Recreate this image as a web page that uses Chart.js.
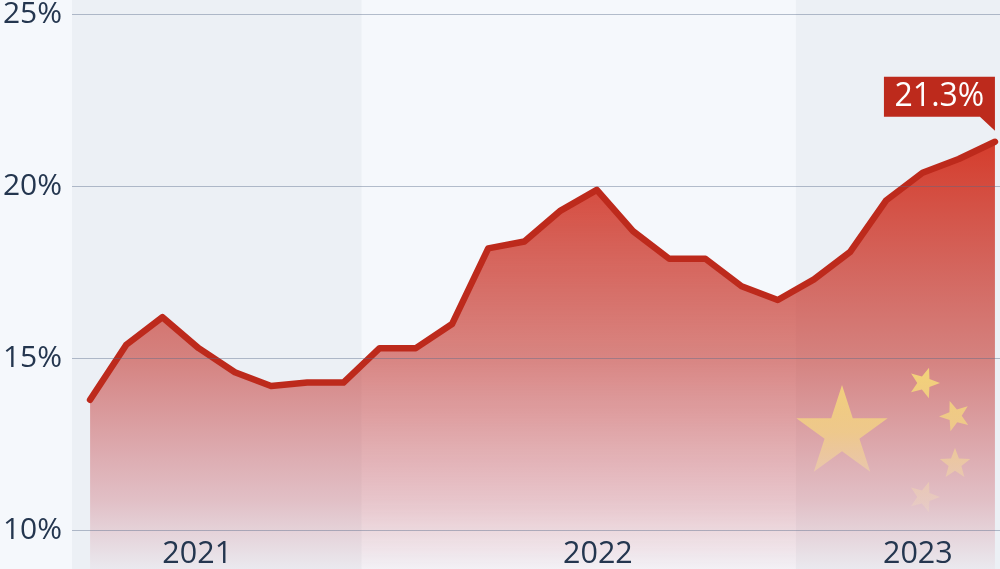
<!DOCTYPE html>
<html>
<head>
<meta charset="utf-8">
<style>
  html, body { margin: 0; padding: 0; background: #f5f8fc; }
  #wrap { width: 1000px; height: 569px; position: relative; }
</style>
<script src="https://cdn.jsdelivr.net/npm/chart.js@4"></script>
</head>
<body>
<div id="wrap"><canvas id="myChart"></canvas></div>
<script>
// monthly share
var rates = [13.8, 15.4, 16.2, 15.3, 14.6, 14.2, 14.3, 14.3, 15.3, 15.3, 16.0, 18.2, 18.4,
             19.3, 19.9, 18.7, 17.9, 17.9, 17.1, 16.7, 17.3, 18.1, 19.6, 20.4, 20.8, 21.3];
var yTicks = [10, 15, 20, 25];
var years = ['2021', '2022', '2023'];
var yearTicks = [2.96, 14.03, 22.87];
// shaded year bands, in month index units
var bandStarts = [-0.5, 19.5];
var bandEnds = [7.5, 25.14];
var lastLabel = '21.3%';

var fontName = '"Open Sans", sans-serif';
var textColor = '#24364f';
var red = '#bd2a1c';

function starPath(ctx, cx, cy, r, rot, inner) {
  ctx.beginPath();
  for (var i = 0; i < 10; i++) {
    var rad = i % 2 == 0 ? r : r * inner;
    var ang = -Math.PI / 2 + rot + i * Math.PI / 5;
    ctx.lineTo(cx + rad * Math.cos(ang), cy + rad * Math.sin(ang));
  }
  ctx.closePath();
}

var bandsPlugin = {
  id: 'bands',
  beforeDatasetsDraw: function (chart) {
    var ctx = chart.ctx, xs = chart.scales.x, area = chart.chartArea;
    ctx.save();
    ctx.fillStyle = '#ecf0f5';
    for (var i = 0; i < bandStarts.length; i++) {
      var l = xs.getPixelForValue(bandStarts[i]);
      var r = xs.getPixelForValue(bandEnds[i]);
      ctx.fillRect(l, area.top, r - l, area.bottom - area.top);
    }
    ctx.restore();
  }
};

var flagPlugin = {
  id: 'flag',
  afterDatasetsDraw: function (chart) {
    var ctx = chart.ctx;
    var g = ctx.createLinearGradient(0, 365, 0, 515);
    g.addColorStop(0, 'rgba(245,215,120,0.95)');
    g.addColorStop(0.45, 'rgba(245,215,130,0.72)');
    g.addColorStop(1, 'rgba(245,225,190,0.22)');
    ctx.save();
    ctx.fillStyle = g;
    starPath(ctx, 842, 433, 48, 0, 0.382); ctx.fill();
    starPath(ctx, 924, 383, 16, 0.32, 0.42); ctx.fill();
    starPath(ctx, 955, 416, 16, -0.34, 0.42); ctx.fill();
    starPath(ctx, 955, 464, 16, 0, 0.42); ctx.fill();
    starPath(ctx, 924, 497, 16, 0.32, 0.42); ctx.fill();
    ctx.restore();
  }
};

var labelsPlugin = {
  id: 'yearLabels',
  afterDraw: function (chart) {
    var ctx = chart.ctx, xs = chart.scales.x;
    ctx.save();
    ctx.fillStyle = textColor;
    ctx.font = '30.5px ' + fontName;
    ctx.textAlign = 'center';
    ctx.textBaseline = 'middle';
    for (var i = 0; i < years.length; i++) {
      ctx.fillText(years[i], xs.getPixelForValue(yearTicks[i]), 554);
    }
    // callout on the last point
    var pt = chart.getDatasetMeta(0).data[rates.length - 1];
    var px = pt.x, py = pt.y;
    ctx.fillStyle = red;
    ctx.beginPath();
    ctx.moveTo(px - 111, py - 65);
    ctx.lineTo(px, py - 65);
    ctx.lineTo(px, py - 11);
    ctx.lineTo(px - 15, py - 25);
    ctx.lineTo(px - 111, py - 25);
    ctx.closePath();
    ctx.fill();
    ctx.fillStyle = '#ffffff';
    ctx.font = '500 32px ' + fontName;
    ctx.fillText(lastLabel, px - 55.5, py - 45);
    ctx.restore();
  }
};

const lineChart = document.getElementById('myChart');
var myChart = new Chart(lineChart, {
  type: 'line',
  data: {
    datasets: [{
      data: rates.map(function (v, i) { return { x: i, y: v }; }),
      borderColor: red,
      borderWidth: 6.5,
      borderJoinStyle: 'round',
      borderCapStyle: 'round',
      pointRadius: 0,
      tension: 0,
      clip: false,
      fill: 'start',
      backgroundColor: function (context) {
        var g = context.chart.ctx.createLinearGradient(0, 140, 0, 569);
        g.addColorStop(0, 'rgba(212,50,32,0.95)');
        g.addColorStop(0.5, 'rgba(198,60,52,0.62)');
        g.addColorStop(0.84, 'rgba(196,60,70,0.27)');
        g.addColorStop(1, 'rgba(190,60,80,0.04)');
        return g;
      }
    }]
  },
  options: {
    responsive: true,
    maintainAspectRatio: false,
    animation: false,
    layout: { padding: 0 },
    plugins: { legend: { display: false }, tooltip: { enabled: false } },
    scales: {
      x: {
        type: 'linear',
        min: -0.5,
        max: 25.14,
        grid: { display: false },
        border: { display: false },
        ticks: { display: false },
        afterFit: function (axis) {
          axis.height = 0;
          axis.paddingLeft = 0;
          axis.paddingRight = 0;
        }
      },
      y: {
        min: 8.88,
        max: 25.421,
        border: { display: false },
        grid: { color: 'rgba(85,105,135,0.42)', lineWidth: 1, drawTicks: false, z: 1 },
        afterBuildTicks: function (axis) {
          axis.ticks = yTicks.map(function (v) { return { value: v }; });
        },
        afterFit: function (axis) {
          axis.width = 72;
          axis.paddingTop = 0;
          axis.paddingBottom = 0;
        },
        ticks: {
          padding: 10,
          color: textColor,
          font: { family: fontName, size: 30 },
          callback: function (value) { return value + '%'; }
        }
      }
    }
  },
  plugins: [bandsPlugin, flagPlugin, labelsPlugin]
});
</script>
</body>
</html>
